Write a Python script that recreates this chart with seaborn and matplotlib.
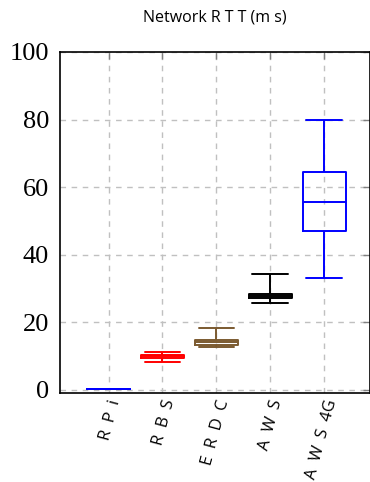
import matplotlib
matplotlib.use("Agg")
import matplotlib.pyplot as plt
import seaborn as sns
import pandas as pd

categories = ["R P i", "R B S", "E R D C", "A W S", "A W S 4G"]
# five-number summaries: min, q1, median, q3, max (ms)
rpi = [0.05, 0.08, 0.1, 0.12, 0.15]
rbs = [8.3, 9.3, 9.9, 10.4, 11.2]
erdc = [12.5, 13.3, 14.0, 14.7, 18.3]
aws = [25.8, 27.1, 27.7, 28.3, 34.3]
aws4g = [33.1, 47.0, 55.6, 64.5, 80.0]
colors = ["#0000ff", "#ff0000", "#7b5a30", "#000000", "#0000ff"]
yticks = [0, 20, 40, 60, 80, 100]

series = [rpi, rbs, erdc, aws, aws4g]
df = pd.DataFrame({
    "cat": [c for c, s in zip(categories, series) for _ in s],
    "rtt": [v for s in series for v in s],
})

sns.set_style("white")
fig = plt.figure(figsize=(3.7, 4.82), dpi=100)
ax = fig.add_axes([60 / 370, 1 - 393 / 482, 1 - 60 / 370, (393 - 52) / 482])

sns.boxplot(data=df, x="cat", y="rtt", hue="cat", palette=colors, order=categories,
            hue_order=categories, fill=False, whis=(0, 100), width=0.8,
            linewidth=1.4, legend=False, ax=ax, zorder=3)

# widen whisker caps
cap_w = 0.66
for ln in ax.lines:
    xd, yd = list(ln.get_xdata()), list(ln.get_ydata())
    if len(xd) == 2 and yd[0] == yd[1] and abs(abs(xd[1] - xd[0]) - 0.4) < 1e-6:
        c = (xd[0] + xd[1]) / 2
        ln.set_xdata([c - cap_w / 2, c + cap_w / 2])

ax.set_xlim(-0.9, 4.85)
ax.set_ylim(-1, 100)
ax.set_yticks(yticks)
ax.set_yticklabels([str(t) for t in yticks], fontfamily="Liberation Serif", fontsize=19,
                   color="black")
ax.set_xlabel("")
ax.set_ylabel("")
ax.set_xticks(range(len(categories)))
ax.set_xticklabels([c.replace(" ", "\u2002") for c in categories], rotation=75,
                   ha="right", rotation_mode="anchor", fontfamily="Open Sans",
                   fontsize=12, color="black")
ax.grid(True, linestyle=(0, (4, 4)), color="#c0c0c0", linewidth=1.0, zorder=0)
ax.set_axisbelow(True)
ax.tick_params(axis="both", direction="in", color="#808080", length=5, width=1,
               top=True, right=True)
ax.tick_params(axis="y", pad=8)
for sp in ax.spines.values():
    sp.set_color("black")
    sp.set_linewidth(1.2)
ax.set_title("Network R T T (m s)", fontfamily="Open Sans", fontsize=11.5, pad=22,
             color="black")

fig.savefig("out.png", dpi=100)
